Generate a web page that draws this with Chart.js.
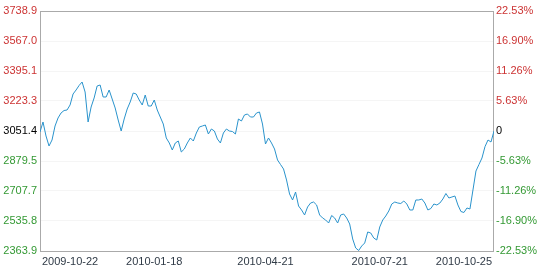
<!DOCTYPE html>
<html>
<head>
<meta charset="utf-8">
<script src="https://cdn.jsdelivr.net/npm/chart.js@4/dist/chart.umd.min.js"></script>
<style>
  body { margin: 0; background: #fff; }
  #wrap { width: 541px; height: 269px; }
</style>
</head>
<body>
<div id="wrap"><canvas id="myChart"></canvas></div>
<script>
// index close (one value every ~3px)
var closes = [
  3045.7, 3103.0, 3022.8, 2965.5, 2999.8, 3080.0, 3125.9, 3154.5, 3168.8, 3171.7,
  3200.4, 3263.4, 3286.3, 3312.1, 3332.1, 3274.8, 3103.0, 3188.9, 3240.5, 3309.2,
  3314.9, 3246.2, 3246.2, 3286.3, 3234.7, 3183.2, 3114.4, 3051.4, 3120.1, 3177.4,
  3217.5, 3269.1, 3263.4, 3229.0, 3200.4, 3257.6, 3194.6, 3194.6, 3229.0, 3171.7,
  3131.6, 3091.5, 3011.3, 2982.7, 2942.5, 2982.7, 2994.1, 2931.1, 2948.3, 2982.7,
  3011.3, 2994.1, 3039.9, 3074.3, 3080.0, 3085.8, 3034.2, 3062.9, 3051.4, 3005.6,
  2982.7, 3039.9, 3062.9, 3051.4, 3048.5, 3034.2, 3120.1, 3108.7, 3143.1, 3148.8,
  3131.6, 3131.6, 3154.5, 3160.3, 3091.5, 2976.9, 3011.3, 2982.7, 2948.3, 2885.3,
  2859.5, 2833.7, 2770.7, 2690.5, 2656.1, 2701.9, 2621.7, 2598.8, 2570.2, 2616.0,
  2638.9, 2644.6, 2627.5, 2570.2, 2553.0, 2541.5, 2524.3, 2567.3, 2553.0, 2524.3,
  2570.2, 2575.9, 2553.0, 2518.6, 2432.7, 2381.1, 2366.8, 2392.6, 2409.8, 2472.8,
  2467.0, 2438.4, 2426.9, 2501.4, 2541.5, 2564.4, 2593.1, 2633.2, 2644.6, 2638.9,
  2636.0, 2650.4, 2633.2, 2598.8, 2598.8, 2656.1, 2656.1, 2661.8, 2638.9, 2598.8,
  2607.4, 2633.2, 2627.5, 2638.9, 2661.8, 2693.3, 2667.6, 2673.3, 2679.0, 2627.5,
  2590.2, 2584.5, 2610.3, 2604.5, 2713.4, 2822.2, 2859.5, 2896.7, 2961.5, 2999.8,
  2988.4, 3051.4
];
var xLabels = ['2009-10-22', '2010-01-18', '2010-04-21', '2010-07-21', '2010-10-25'];
var xLabelIdx = [10, 38, 75, 113, 141];
var yTickLabels = ['2363.9', '2535.8', '2707.7', '2879.5', '3051.4', '3223.3', '3395.1', '3567.0', '3738.9'];
var pctTickLabels = ['-22.53%', '-16.90%', '-11.26%', '-5.63%', '0', '5.63%', '11.26%', '16.90%', '22.53%'];

var yTicks = yTickLabels.map(function (s) { return parseFloat(s); });
var points = closes.map(function (v, i) { return { x: i, y: v }; });

function tickColor(ctx) {
  if (ctx.index > 4) return '#cc3333';
  if (ctx.index < 4) return '#339933';
  return '#000000';
}

var font = { family: "Arial, 'Liberation Sans', sans-serif", size: 11 };

var boxPlugin = {
  id: 'box',
  beforeDatasetsDraw: function (chart) {
    var a = chart.chartArea;
    var c = chart.ctx;
    c.save();
    c.strokeStyle = '#aaaaaa';
    c.lineWidth = 1;
    c.strokeRect(Math.round(a.left) + 0.5, Math.round(a.top) + 0.5,
      Math.round(a.right - a.left) - 1, Math.round(a.bottom - a.top));
    c.restore();
  }
};

new Chart(document.getElementById('myChart'), {
  type: 'line',
  data: {
    datasets: [{
      data: points,
      borderColor: '#2a93cc',
      borderWidth: 1,
      pointRadius: 0,
      tension: 0,
      fill: false
    }]
  },
  options: {
    responsive: true,
    maintainAspectRatio: false,
    animation: false,
    layout: { padding: { top: 11, left: 0, right: 0, bottom: 0 } },
    plugins: { legend: { display: false }, tooltip: { enabled: false } },
    scales: {
      x: {
        type: 'linear',
        min: 0,
        max: closes.length - 1,
        afterBuildTicks: function (scale) {
          scale.ticks = xLabelIdx.map(function (v) { return { value: v }; });
        },
        afterFit: function (scale) { scale.height = 18; },
        grid: { display: false, drawTicks: false },
        border: { display: false },
        ticks: {
          autoSkip: false,
          maxRotation: 0,
          padding: 4,
          color: '#2f3a46',
          font: font,
          callback: function (v) {
            var k = xLabelIdx.indexOf(v);
            return k >= 0 ? xLabels[k] : '';
          }
        }
      },
      y: {
        position: 'left',
        min: yTicks[0],
        max: yTicks[yTicks.length - 1],
        afterBuildTicks: function (scale) {
          scale.ticks = yTicks.map(function (v) { return { value: v }; });
        },
        afterFit: function (scale) { scale.width = 40; },
        grid: { color: 'rgba(0,0,0,0.04)', drawTicks: false },
        border: { display: false },
        ticks: {
          padding: 3,
          font: font,
          color: tickColor,
          callback: function (v, i) { return yTickLabels[i]; }
        }
      },
      y2: {
        position: 'right',
        min: yTicks[0],
        max: yTicks[yTicks.length - 1],
        afterBuildTicks: function (scale) {
          scale.ticks = yTicks.map(function (v) { return { value: v }; });
        },
        afterFit: function (scale) { scale.width = 47; },
        grid: { display: false, drawTicks: false },
        border: { display: false },
        ticks: {
          padding: 2,
          font: font,
          color: tickColor,
          callback: function (v, i) { return pctTickLabels[i]; }
        }
      }
    }
  },
  plugins: [boxPlugin]
});
</script>
</body>
</html>
